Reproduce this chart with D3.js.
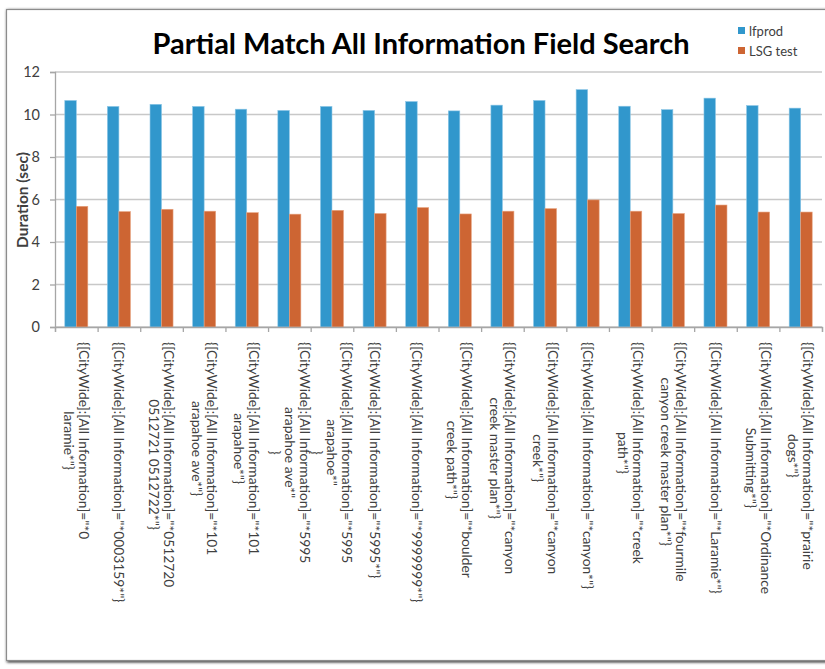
<!DOCTYPE html>
<html>
<head>
<meta charset="utf-8">
<script src="https://cdn.jsdelivr.net/npm/d3@7.9.0/dist/d3.min.js"></script>
<style>
  html, body { margin: 0; padding: 0; background: #fff; }
  svg { display: block; }
  text { font-family: Lato, "Liberation Sans", sans-serif; fill: #404040; }
</style>
</head>
<body>
<div id="chart"></div>
<script>
// category labels, one array of wrapped lines per query
const categoryLines = [
  ['{[CityWide]:[All Information]="*0', 'laramie*"}'],
  ['{[CityWide]:[All Information]="*0003159*"}'],
  ['{[CityWide]:[All Information]="*0512720', '0512721 0512722*"}'],
  ['{[CityWide]:[All Information]="*101', 'arapahoe ave*"}'],
  ['{[CityWide]:[All Information]="*101', 'arapahoe*"}'],
  ['{[CityWide]:[All Information]="*5995', 'arapahoe ave*"', '}'],
  ['{[CityWide]:[All Information]="*5995', 'arapahoe*"', '}'],
  ['{[CityWide]:[All Information]="*5995*"}'],
  ['{[CityWide]:[All Information]="*9999999*"}'],
  ['{[CityWide]:[All Information]="*boulder', 'creek path*"}'],
  ['{[CityWide]:[All Information]="*canyon', 'creek master plan*"}'],
  ['{[CityWide]:[All Information]="*canyon', 'creek*"}'],
  ['{[CityWide]:[All Information]="*canyon*"}'],
  ['{[CityWide]:[All Information]="*creek', 'path*"}'],
  ['{[CityWide]:[All Information]="*fourmile', 'canyon creek master plan*"}'],
  ['{[CityWide]:[All Information]="*Laramie*"}'],
  ['{[CityWide]:[All Information]="*Ordinance', 'Submitting*"}'],
  ['{[CityWide]:[All Information]="*prairie', 'dogs*"}']
];
const seriesNames = ['lfprod', 'LSG test'];
const seriesColors = ['#3197cc', '#cd6533'];
const lfprod = [10.66, 10.38, 10.48, 10.38, 10.25, 10.19, 10.38, 10.19, 10.61,
                10.17, 10.44, 10.66, 11.17, 10.39, 10.23, 10.77, 10.42, 10.30];
const lsgTest = [5.68, 5.43, 5.54, 5.45, 5.38, 5.31, 5.49, 5.34, 5.62,
                 5.32, 5.45, 5.57, 5.98, 5.45, 5.34, 5.74, 5.41, 5.41];
const yTicks = [0, 2, 4, 6, 8, 10, 12];

const width = 825;
const height = 669;
const plot = { left: 55, right: 822, top: 72, bottom: 327 };

const rows = categoryLines.map((lines, i) => ({ i, lines, values: [lfprod[i], lsgTest[i]] }));

const svg = d3.select('#chart').append('svg')
    .attr('width', width)
    .attr('height', height);

// frame with a soft shadow
const defs = svg.append('defs');
const f = defs.append('filter').attr('id', 'shadow').attr('x', '-5%').attr('y', '-5%')
    .attr('width', '110%').attr('height', '110%');
f.append('feGaussianBlur').attr('in', 'SourceAlpha').attr('stdDeviation', 1.5);
f.append('feOffset').attr('dx', 1).attr('dy', 1).attr('result', 'b');
const merge = f.append('feMerge');
merge.append('feMergeNode').attr('in', 'b');
merge.append('feMergeNode').attr('in', 'SourceGraphic');

svg.append('rect')
    .attr('x', 6.5).attr('y', 9.5)
    .attr('width', 840).attr('height', 651)
    .attr('fill', '#fff')
    .attr('stroke', '#8c8c8c')
    .attr('stroke-width', 1.2)
    .attr('filter', 'url(#shadow)');

const x = d3.scaleBand()
    .domain(rows.map(d => d.i))
    .range([plot.left, plot.right])
    .paddingInner(0.46)
    .paddingOuter(0.23);

const xSub = d3.scaleBand()
    .domain([0, 1])
    .range([0, x.bandwidth()]);

const xEdge = d3.scaleLinear().domain([0, rows.length]).range([plot.left, plot.right]);

const y = d3.scaleLinear().domain([0, 12]).range([plot.bottom, plot.top]);

// gridlines
svg.append('g')
    .selectAll('line')
    .data(yTicks)
    .join('line')
    .attr('x1', plot.left)
    .attr('x2', plot.right)
    .attr('y1', d => y(d))
    .attr('y2', d => y(d))
    .attr('stroke', '#c8c8c8')
    .attr('stroke-width', 1.5);

// y axis
const yAxis = svg.append('g')
    .attr('transform', `translate(${plot.left},0)`)
    .call(d3.axisLeft(y).tickValues(yTicks).tickSize(5).tickPadding(10));
yAxis.select('.domain').attr('stroke', '#a6a6a6').attr('stroke-width', 1.3);
yAxis.selectAll('.tick line').attr('stroke', '#a6a6a6').attr('stroke-width', 1.3);
yAxis.selectAll('.tick text')
    .style('font-size', '14.5px')
    .style('font-family', 'Lato, "Liberation Sans", sans-serif')
    .attr('fill', '#404040');

// bars
const groups = svg.append('g')
    .selectAll('g')
    .data(rows)
    .join('g')
    .attr('transform', d => `translate(${x(d.i)},0)`);

groups.selectAll('rect')
    .data(d => d.values.map((v, k) => ({ k, v })))
    .join('rect')
    .attr('x', d => xSub(d.k))
    .attr('width', xSub.bandwidth())
    .attr('y', d => y(d.v))
    .attr('height', d => y(0) - y(d.v))
    .attr('fill', d => seriesColors[d.k])
    .attr('stroke', d => d.k === 0 ? '#8cc6e6' : '#e7a27f')
    .attr('stroke-width', 0.6);

// x axis with ticks between categories
const xAxis = svg.append('g')
    .attr('transform', `translate(0,${plot.bottom})`)
    .call(d3.axisBottom(xEdge).tickValues(d3.range(rows.length + 1)).tickFormat('').tickSize(5));
xAxis.select('.domain').attr('stroke', '#a6a6a6').attr('stroke-width', 1.3);
xAxis.selectAll('.tick line').attr('stroke', '#a6a6a6').attr('stroke-width', 1.3);

// rotated category labels
const lh = 15;
const labels = svg.append('g')
    .selectAll('g')
    .data(rows)
    .join('g')
    .attr('transform', d => `translate(${x(d.i) + x.bandwidth() / 2},342) rotate(90)`);

labels.each(function (d) {
    const g = d3.select(this);
    const n = d.lines.length;
    const texts = g.selectAll('text')
        .data(d.lines)
        .join('text')
        .attr('y', (s, k) => (k - (n - 1) / 2) * lh)
        .attr('dy', '0.35em')
        .style('font-size', '13.8px')
        .attr('text-anchor', 'middle')
        .text(s => s);
    const maxLen = d3.max(texts.nodes(), t => t.getComputedTextLength());
    texts.attr('x', maxLen / 2);
});

// y axis title
svg.append('text')
    .attr('transform', 'translate(28,200) rotate(-90)')
    .attr('text-anchor', 'middle')
    .style('font-size', '15.5px')
    .style('font-weight', 700)
    .text('Duration (sec)');

// chart title
svg.append('text')
    .attr('x', 421)
    .attr('y', 54)
    .attr('text-anchor', 'middle')
    .style('font-size', '29px')
    .style('font-weight', 700)
    .style('fill', '#000')
    .text('Partial Match All Information Field Search');

// legend
const legend = svg.append('g')
    .selectAll('g')
    .data(seriesNames)
    .join('g')
    .attr('transform', (d, k) => `translate(738,${27 + k * 20})`);
legend.append('rect')
    .attr('width', 7).attr('height', 7)
    .attr('fill', (d, k) => seriesColors[k]);
legend.append('text')
    .attr('x', 11)
    .attr('y', 4)
    .attr('dy', '0.35em')
    .style('font-size', '13px')
    .text(d => d);
</script>
</body>
</html>
